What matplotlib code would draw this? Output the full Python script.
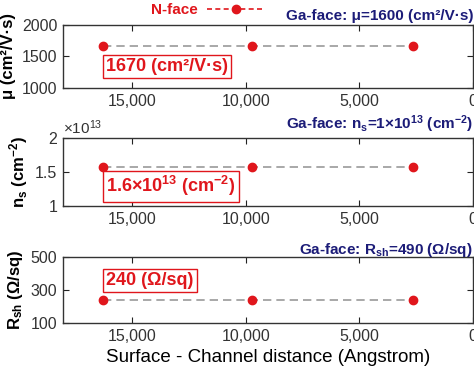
import matplotlib
matplotlib.use("Agg")
import matplotlib.pyplot as plt
from matplotlib.lines import Line2D
from matplotlib.ticker import FuncFormatter

plt.rcParams['font.family'] = ['Liberation Sans', 'DejaVu Sans']
plt.rcParams['mathtext.fontset'] = 'custom'
plt.rcParams['mathtext.rm'] = 'Liberation Sans'
plt.rcParams['mathtext.bf'] = 'Liberation Sans:bold'
plt.rcParams['mathtext.it'] = 'Liberation Sans:italic'

# data
distance = [16300, 9750, 2650]
mobility = [1665, 1665, 1665]
density = [1.57e13, 1.57e13, 1.57e13]
sheet_res = [240, 240, 240]

x_ticks = [15000, 10000, 5000, 0]
mu_ticks = [1000, 1500, 2000]
ns_ticks = [1e13, 1.5e13, 2e13]
rsh_ticks = [100, 300, 500]

RED = '#e0161c'
NAVY = '#1c1c78'
GREY = '#9a9a9a'
TXT = '#333333'

fig = plt.figure(figsize=(4.74, 3.68), dpi=100)
ax1 = fig.add_axes([0.133, 0.761, 0.865, 0.171])
ax2 = fig.add_axes([0.133, 0.440, 0.865, 0.185])
ax3 = fig.add_axes([0.133, 0.122, 0.865, 0.179])

panels = [
    (ax1, mobility, mu_ticks, (1000, 2000), 'μ (cm²/V·s)',
     '1670 (cm²/V·s)', 0.34),
    (ax2, density, ns_ticks, (1e13, 2e13), r'n$_\mathbf{s}$ (cm$^\mathbf{-2}$)',
     r'1.6$\mathbf{\times}$10$^\mathbf{13}$ (cm$^\mathbf{-2}$)', 0.29),
    (ax3, sheet_res, rsh_ticks, (100, 500), r'R$_\mathbf{sh}$ (Ω/sq)',
     '240 (Ω/sq)', 0.65),
]

for ax, vals, yt, ylim, ylab, box, ybox in panels:
    ax.plot(distance, vals, ls=(0, (5, 3)), color=GREY, lw=1.2, zorder=2)
    ax.plot(distance, vals, 'o', color=RED, ms=6, zorder=3)
    ax.set_xlim(18050, 0)
    ax.set_ylim(*ylim)
    ax.set_xticks(x_ticks)
    ax.xaxis.set_major_formatter(FuncFormatter(lambda v, p: f'{int(v):,}'))
    ax.set_yticks(yt)
    ax.tick_params(direction='in', top=True, right=True, length=4,
                   labelsize=11.5, colors='#222222', labelcolor=TXT, pad=4)
    for s in ax.spines.values():
        s.set_color('#333333')
        s.set_linewidth(1.0)
    ax.set_ylabel(ylab, fontsize=12, fontweight='bold', labelpad=4)
    ax.text(0.105, ybox, box, transform=ax.transAxes, color=RED,
            fontsize=13, fontweight='bold', va='center', ha='left',
            bbox=dict(boxstyle='square,pad=0.18', fc='white', ec=RED, lw=1))

# n_s ticks shown as 1, 1.5, 2 with a x10^13 note on top
ax2.yaxis.set_major_formatter(FuncFormatter(lambda v, p: f'{v / 1e13:g}'))
ax2.text(0.0, 1.02, r'$\times$10$^{13}$', transform=ax2.transAxes,
         ha='left', va='bottom', fontsize=11, color=TXT)

# headers
ax1.text(1.0, 1.04, 'Ga-face: μ=1600 (cm²/V·s)', transform=ax1.transAxes,
         ha='right', va='bottom', color=NAVY, fontsize=11, fontweight='bold')
ax2.text(1.0, 1.04, r'Ga-face: n$_\mathbf{s}$=1$\mathbf{\times}$10$^\mathbf{13}$ (cm$^\mathbf{-2}$)',
         transform=ax2.transAxes, ha='right', va='bottom', color=NAVY,
         fontsize=11, fontweight='bold')
ax3.text(1.0, 0.98, r'Ga-face: R$_\mathbf{sh}$=490 (Ω/sq)', transform=ax3.transAxes,
         ha='right', va='bottom', color=NAVY, fontsize=11, fontweight='bold')

handle = Line2D([], [], color=RED, ls=(0, (3, 2)), marker='o', ms=6, lw=1.2)
leg = ax1.legend([handle], ['N-face'], loc='lower right', bbox_to_anchor=(0.515, 0.98),
                 frameon=False, markerfirst=False, handlelength=3.8,
                 handletextpad=0.6, borderpad=0.1,
                 prop={'size': 11, 'weight': 'bold'})
for t in leg.get_texts():
    t.set_color(RED)

ax3.set_xlabel('Surface - Channel distance (Angstrom)', fontsize=13.5, labelpad=4)

fig.savefig('out.png', dpi=100)
